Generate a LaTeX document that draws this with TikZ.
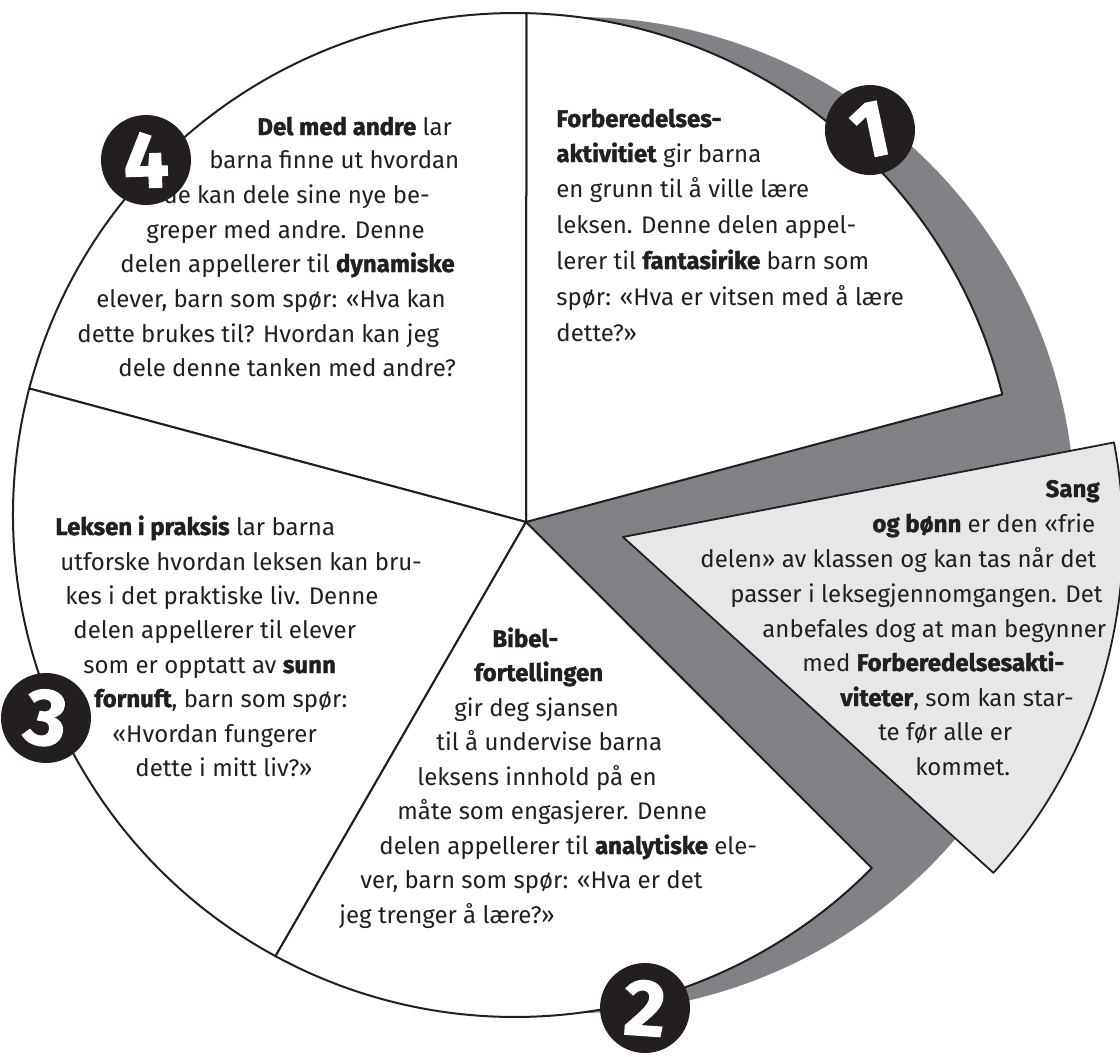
\documentclass[tikz,border=0pt]{standalone}
\usepackage{fontspec}
\setmainfont{Fira Sans}[BoldFeatures={FakeBold=1.5}]
\usetikzlibrary{calc}
\definecolor{bandgray}{RGB}{128,130,133}
\definecolor{cardgray}{RGB}{230,231,232}
\definecolor{ink}{RGB}{35,31,32}
\tikzset{sector/.style={fill=white,draw=ink,line width=1pt,line join=round}}
\tikzset{card/.style={fill=cardgray,draw=ink,line width=0.9pt,line join=round}}
\tikzset{disk/.style={circle,fill=ink,minimum size=45pt,inner sep=0pt,text=white,font=\fontsize{40}{40}\selectfont\bfseries}}
\tikzset{txt/.style={text=ink,inner sep=0pt,anchor=base west,font=\fontsize{12}{15}\selectfont}}

\begin{document}
\begin{tikzpicture}[x=0.5pt,y=0.5pt]
  \useasboundingbox (0,0) rectangle (1120,-1056);
  % shadow band behind the wheel
  \fill[bandgray] (577,-515) circle[radius=498];
  % the four white parts
  \begin{scope}[shift={(515,-515)}]
    \coordinate (hub) at (11,-7);
    \draw[sector] (hub) -- (13.9:502) arc[start angle=13.9,end angle=88.7,radius=502] -- cycle;
    \draw[sector] (hub) -- (88.7:502) arc[start angle=88.7,end angle=165.4,radius=502] -- cycle;
    \draw[sector] (hub) -- (165.4:502) arc[start angle=165.4,end angle=241.5,radius=502] -- cycle;
    \draw[sector] (hub) -- (241.5:502) arc[start angle=241.5,end angle=315.3,radius=502] -- cycle;
  \end{scope}
  % the part pulled out
  \coordinate (apex) at (623,-537);
  \draw[card] (apex) -- ++(10.9:500) arc[start angle=10.9,end angle=-42.2,radius=500] -- cycle;

  % 1
  \foreach \y/\words [count=\i] in {127/{\textbf{Forberedelses-}},
      162/{\textbf{aktivitiet} gir barna},
      197/{en grunn til å ville lære},
      233/{leksen. Denne delen appel-},
      269/{lerer til \textbf{fantasirike} barn som},
      305/{spør: «Hva er vitsen med å lære},
      341/{dette?»}}
    \node[txt] (one-\i) at (556,-\y) {\words};
  % 2
  \foreach \x/\y/\words [count=\i] in {492/647/{\textbf{Bibel-}},
      474/681/{\textbf{fortellingen}},
      454/716/{gir deg sjansen},
      436/750/{til å undervise barna},
      417/785/{leksens innhold på en},
      397/819/{måte som engasjerer. Denne},
      379/854/{delen appellerer til \textbf{analytiske} ele-},
      360/888/{ver, barn som spør: «Hva er det},
      339/923/{jeg trenger å lære?»}}
    \node[txt] (two-\i) at (\x,-\y) {\words};
  % 3
  \foreach \x/\y/\words [count=\i] in {55/535/{\textbf{Leksen i praksis} lar barna},
      60/570/{utforske hvordan leksen kan bru-},
      65/604/{kes i det praktiske liv. Denne},
      73/638/{delen appellerer til elever},
      83/673/{som er opptatt av \textbf{sunn}},
      94/707/{\textbf{fornuft}, barn som spør:},
      112/742/{«Hvordan fungerer},
      135/776/{dette i mitt liv?»}}
    \node[txt] (three-\i) at (\x,-\y) {\words};
  % 4
  \foreach \x/\y/\words [count=\i] in {257/135/{\textbf{Del med andre} lar},
      209/168/{barna finne ut hvordan},
      163/203/{de kan dele sine nye be-},
      146/238/{greper med andre. Denne},
      120/272/{delen appellerer til \textbf{dynamiske}},
      96/307/{elever, barn som spør: «Hva kan},
      77/342/{dette brukes til? Hvordan kan jeg},
      118/376/{dele denne tanken med andre?}}
    \node[txt] (four-\i) at (\x,-\y) {\words};
  % sang og bønn
  \node[txt,anchor=base east] (song-1) at (1100,-497) {\textbf{Sang}};
  \foreach \x/\y/\words [count=\i from 2] in {872/532/{\textbf{og bønn} er den «frie},
      700/567/{delen» av klassen og kan tas når det},
      730/602/{passer i leksegjennomgangen. Det},
      762/637/{anbefales dog at man begynner},
      802/671/{med \textbf{Forberedelsesakti-}},
      840/706/{\textbf{viteter}, som kan star-},
      878/740/{te før alle er},
      915/775/{kommet.}}
    \node[txt] (song-\i) at (\x,-\y) {\words};

  \node[disk,rotate=12] (n1) at (870,-130) {1};
  \node[disk,rotate=-4] (n2) at (645,-1008) {2};
  \node[disk,rotate=-8] (n3) at (46,-718) {3};
  \node[disk,rotate=2] (n4) at (146,-160) {4};
\end{tikzpicture}
\end{document}
